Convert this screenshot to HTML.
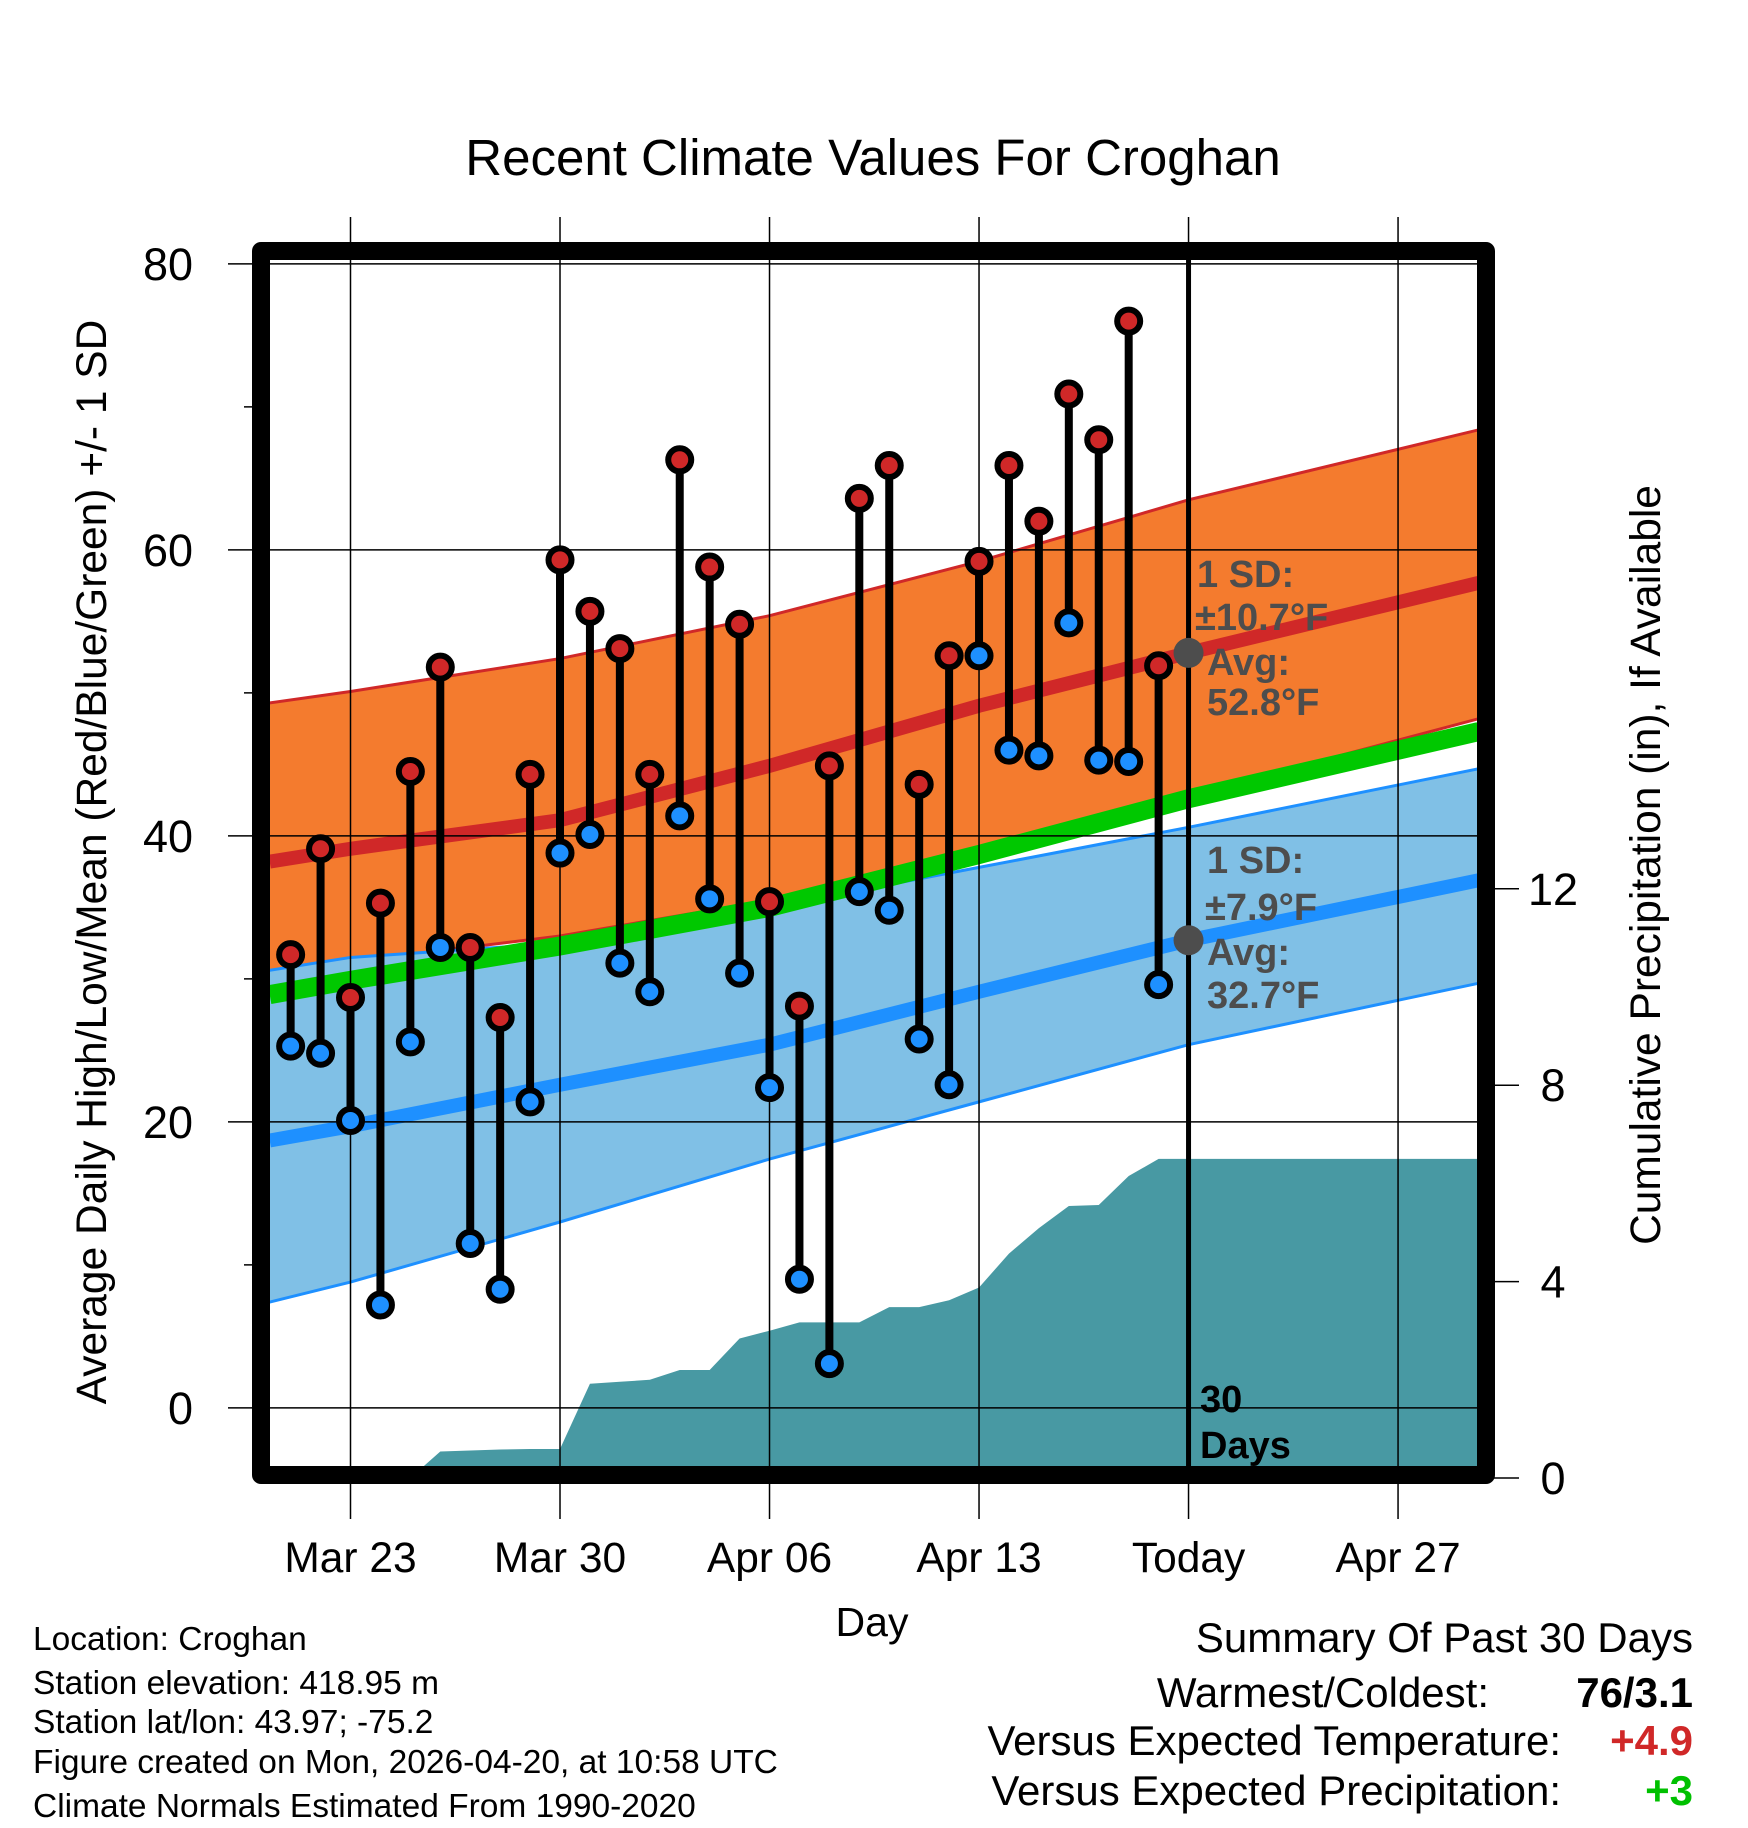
<!DOCTYPE html>
<html><head><meta charset="utf-8">
<style>
html,body{margin:0;padding:0;background:#fff;}
svg{display:block;font-family:"Liberation Sans",Arial,sans-serif;}
</style></head>
<body>
<svg id="chart" width="1748" height="1828" viewBox="0 0 1748 1828" xmlns="http://www.w3.org/2000/svg">
<text x="873" y="175" font-size="51" text-anchor="middle">Recent Climate Values For Croghan</text>
<g id="plot"></g>
<text transform="translate(106,862) rotate(-90)" font-size="42.5" text-anchor="middle">Average Daily High/Low/Mean (Red/Blue/Green) +/- 1 SD</text>
<text transform="translate(1660,865) rotate(-90)" font-size="42.5" text-anchor="middle">Cumulative Precipitation (in), If Available</text>
<text x="872" y="1636" font-size="41" text-anchor="middle">Day</text>
<g font-size="33.5">
<text x="33" y="1650">Location: Croghan</text>
<text x="33" y="1694">Station elevation: 418.95 m</text>
<text x="33" y="1733">Station lat/lon: 43.97; -75.2</text>
<text x="33" y="1773">Figure created on Mon, 2026-04-20, at 10:58 UTC</text>
<text x="33" y="1817">Climate Normals Estimated From 1990-2020</text>
</g>
<g font-size="42" text-anchor="end">
<text x="1693" y="1652">Summary Of Past 30 Days</text>
<text x="1489" y="1707">Warmest/Coldest:</text>
<text x="1693" y="1707" font-weight="bold">76/3.1</text>
<text x="1561" y="1755">Versus Expected Temperature:</text>
<text x="1693" y="1755" font-weight="bold" fill="#d02828">+4.9</text>
<text x="1561" y="1805">Versus Expected Precipitation:</text>
<text x="1693" y="1805" font-weight="bold" fill="#00c000">+3</text>
</g>
</svg>
<script>
// ---- data ----
const days = ["Mar 21","Mar 22","Mar 23","Mar 24","Mar 25","Mar 26","Mar 27","Mar 28","Mar 29","Mar 30","Mar 31","Apr 01","Apr 02","Apr 03","Apr 04","Apr 05","Apr 06","Apr 07","Apr 08","Apr 09","Apr 10","Apr 11","Apr 12","Apr 13","Apr 14","Apr 15","Apr 16","Apr 17","Apr 18","Apr 19"];
const dayIndex = [-2,-1,0,1,2,3,4,5,6,7,8,9,10,11,12,13,14,15,16,17,18,19,20,21,22,23,24,25,26,27];
const highs = [31.7,39.1,28.7,35.3,44.5,51.8,32.2,27.3,44.3,59.3,55.7,53.1,44.3,66.3,58.8,54.8,35.4,28.1,44.9,63.6,65.9,43.6,52.6,59.2,65.9,62.0,70.9,67.7,76.0,51.9];
const lows = [25.3,24.8,20.1,7.2,25.6,32.2,11.5,8.3,21.4,38.8,40.1,31.1,29.1,41.4,35.6,30.4,22.4,9.0,3.1,36.1,34.8,25.8,22.6,52.6,46.0,45.6,54.9,45.3,45.2,29.6];
const precip = [0,0,0,0,0,0.54,0.56,0.58,0.59,0.59,1.92,1.96,2.0,2.2,2.2,2.84,3.0,3.17,3.17,3.17,3.48,3.48,3.62,3.88,4.57,5.09,5.54,5.56,6.15,6.5];
const normDays = [-2.7,0,7,14,21,28,37.7];
const hiUpper = [49.3,50.1,52.4,55.4,59.2,63.5,68.4];
const hiMean = [38.2,39.1,41.1,44.9,49.1,52.8,57.7];
const hiLower = [30.5,31.2,33.0,35.5,38.8,42.8,48.2];
const meanNorm = [28.9,29.9,32.3,35.0,38.7,42.6,47.3];
const loUpper = [30.6,31.5,32.5,35.0,37.8,40.6,44.7];
const loMean = [18.7,19.7,22.6,25.4,29.1,32.7,36.9];
const loLower = [7.4,8.8,13.0,17.4,21.4,25.4,29.7];
const xTickDays = [0,7,14,21,28,35];
const xTickLabels = ["Mar 23","Mar 30","Apr 06","Apr 13","Today","Apr 27"];
const yTicks = [0,20,40,60,80];
const yMinor = [10,30,50,70];
const pTicks = [0,4,8,12];

// ---- scales ----
const L=270,R=1478,T=260,B=1468;
const x = d => 350.5 + 29.93*d;
const y = t => 1407.9 - 14.3*t;
const yp = p => 1478 - 49.1*p;
const NS="http://www.w3.org/2000/svg";
const g=document.getElementById('plot');
function mk(tag,attrs,parent){const e=document.createElementNS(NS,tag);for(const k in attrs)e.setAttribute(k,attrs[k]);(parent||g).appendChild(e);return e;}

const clip=mk('clipPath',{id:'pc'});mk('rect',{x:L,y:T-10,width:R-L,height:B-T+10},clip);
const inner=mk('g',{'clip-path':'url(#pc)'});



function band(up,lo,fill,name){
  let s='M'+normDays.map((d,i)=>x(d)+','+y(up[i])).join(' L');
  for(let i=normDays.length-1;i>=0;i--) s+=' L'+x(normDays[i])+','+y(lo[i]);
  const p=mk('path',{d:s+'Z',fill:fill},inner);
  
  
}
function line(arr,stroke,w,name){
  const p=mk('path',{d:'M'+normDays.map((d,i)=>x(d)+','+y(arr[i])).join(' L'),fill:'none',stroke:stroke,'stroke-width':w},inner);
  
  
}
band(hiUpper,hiLower,'#f47b2e','high-sd-band');
line(hiUpper,'#d02828',3,'high-sd-upper-edge');
line(hiLower,'#d02828',3,'high-sd-lower-edge');
band(loUpper,loLower,'#80c0e6','low-sd-band');
line(loUpper,'#1e90ff',3,'low-sd-upper-edge');
line(loLower,'#1e90ff',3,'low-sd-lower-edge');
line(meanNorm,'#00c800',19,'normal-mean-line');
line(loMean,'#1e90ff',14,'normal-low-line');
line(hiMean,'#d02828',14,'normal-high-line');

// precipitation area
let ps='M'+L+','+yp(0)+' L'+x(dayIndex[0]-0.5)+','+yp(0);
dayIndex.forEach((d,i)=>{ps+=' L'+x(d)+','+yp(precip[i]);});
ps+=' L'+R+','+yp(precip[precip.length-1])+' L'+R+','+(B+20)+' L'+L+','+(B+20)+'Z';
const pa=mk('path',{d:ps,fill:'#4899a3'},inner);



// gridlines
xTickDays.forEach(d=>{
  const l=mk('line',{x1:x(d),x2:x(d),y1:217,y2:1519,stroke:'#000','stroke-width':1.5});
  
  
});
yTicks.forEach(t=>{
  const l=mk('line',{x1:228,x2:R,y1:y(t),y2:y(t),stroke:'#000','stroke-width':1.5});
  
  
  const tx=mk('text',{x:193,y:y(t)+16,'font-size':45,'text-anchor':'end'});
  tx.textContent=t;
  
  
});
yMinor.forEach(t=>{
  const l=mk('line',{x1:244,x2:262,y1:y(t),y2:y(t),stroke:'#000','stroke-width':1.5});
  
  
});
pTicks.forEach(p=>{
  const l=mk('line',{x1:1490,x2:1519,y1:yp(p),y2:yp(p),stroke:'#000','stroke-width':1.5});
  
  
  const tx=mk('text',{x:1553,y:yp(p)+16,'font-size':45,'text-anchor':'middle'});
  tx.textContent=p;
  
  
});
xTickDays.forEach((d,i)=>{
  const tx=mk('text',{x:x(d),y:1572,'font-size':42.5,'text-anchor':'middle'});
  tx.textContent=xTickLabels[i];
  
  
});

// today line
const tl=mk('line',{x1:x(28),x2:x(28),y1:255,y2:B,stroke:'#000','stroke-width':5});



// stems and points
dayIndex.forEach((d,i)=>{
  const s=mk('line',{x1:x(d),x2:x(d),y1:y(highs[i]),y2:y(lows[i]),stroke:'#000','stroke-width':8});
  
  
});
dayIndex.forEach((d,i)=>{
  const h=mk('circle',{cx:x(d),cy:y(highs[i]),r:11.5,fill:'#d02828',stroke:'#000','stroke-width':6});
  
  
  const l=mk('circle',{cx:x(d),cy:y(lows[i]),r:11.5,fill:'#1e90ff',stroke:'#000','stroke-width':6});
  
  
});

// today markers
const m1=mk('circle',{cx:x(28),cy:y(52.8),r:15,fill:'#4d4d4d'});


const m2=mk('circle',{cx:x(28),cy:y(32.7),r:15,fill:'#4d4d4d'});



function ann(lines,xs,ys,name){
  const gg=mk('g',{'font-size':38,'font-weight':'bold',fill:'#4d4d4d'});
  
  
  lines.forEach((t,i)=>{const tx=mk('text',{x:xs[i],y:ys[i]},gg);tx.textContent=t;});
}
ann(['1 SD:','±10.7°F','Avg:','52.8°F'],[1197,1195,1207,1207],[587,630,675,715],'high-normal-annotation');
ann(['1 SD:','±7.9°F','Avg:','32.7°F'],[1207,1205,1207,1207],[873,920,965,1008],'low-normal-annotation');
const dg=mk('g',{'font-size':38,'font-weight':'bold',fill:'#000'});


mk('text',{x:1200,y:1412},dg).textContent='30';
mk('text',{x:1200,y:1458},dg).textContent='Days';

// frame
const fr=mk('rect',{x:261,y:251,width:1225,height:1224,fill:'none',stroke:'#000','stroke-width':18,'stroke-linejoin':'round'});


</script>
</body></html>
